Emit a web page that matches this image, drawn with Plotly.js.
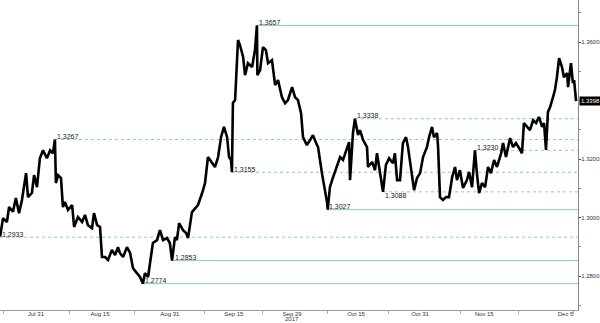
<!DOCTYPE html>
<html>
<head>
<meta charset="utf-8">
<script src="https://cdn.plot.ly/plotly-3.0.1.min.js"></script>
<style>html,body{margin:0;padding:0;background:#fff;}#chart{width:600px;height:323px;}</style>
</head>
<body>
<div id="chart"></div>
<script>
// Price series (hourly-ish readings of the exchange rate, 2017)
var times = [
'2017-07-20 20:00','2017-07-21 08:00','2017-07-24 00:00','2017-07-24 09:00','2017-07-25 01:00','2017-07-25 13:00',
'2017-07-26 02:00','2017-07-26 14:00','2017-07-27 07:00','2017-07-27 15:00','2017-07-28 07:00','2017-07-28 16:00',
'2017-07-31 04:00','2017-07-31 16:00','2017-08-01 05:00','2017-08-01 21:00','2017-08-02 10:00','2017-08-02 22:00',
'2017-08-03 06:00','2017-08-03 10:00','2017-08-03 19:00','2017-08-04 07:00','2017-08-04 15:00','2017-08-04 23:00',
'2017-08-07 12:00','2017-08-08 05:00','2017-08-08 13:00','2017-08-09 05:00','2017-08-09 22:00','2017-08-10 10:00',
'2017-08-10 22:00','2017-08-11 15:00','2017-08-11 23:00','2017-08-14 12:00','2017-08-15 00:00','2017-08-15 08:00',
'2017-08-15 21:00','2017-08-16 09:00','2017-08-17 01:00','2017-08-17 14:00','2017-08-18 02:00','2017-08-18 10:00',
'2017-08-18 23:00','2017-08-21 15:00','2017-08-22 04:00','2017-08-22 16:00','2017-08-23 08:00','2017-08-23 21:00',
'2017-08-24 09:00','2017-08-24 17:00','2017-08-25 06:00','2017-08-25 22:00','2017-08-28 02:00','2017-08-28 19:00',
'2017-08-29 07:00','2017-08-29 20:00','2017-08-30 12:00','2017-08-31 00:00','2017-08-31 09:00','2017-08-31 21:00',
'2017-09-01 05:00','2017-09-01 14:00','2017-09-04 06:00','2017-09-04 19:00','2017-09-05 03:00','2017-09-05 19:00',
'2017-09-06 08:00','2017-09-06 20:00','2017-09-07 13:00','2017-09-08 01:00','2017-09-08 13:00','2017-09-11 06:00',
'2017-09-11 18:00','2017-09-12 07:00','2017-09-12 19:00','2017-09-13 07:00','2017-09-13 20:00','2017-09-14 04:00',
'2017-09-14 12:00','2017-09-14 16:00','2017-09-14 20:00','2017-09-15 05:00','2017-09-15 13:00','2017-09-15 17:00',
'2017-09-18 01:00','2017-09-18 14:00','2017-09-18 22:00','2017-09-19 10:00','2017-09-20 03:00','2017-09-20 15:00',
'2017-09-20 23:00','2017-09-21 01:00','2017-09-21 12:00','2017-09-22 00:00','2017-09-22 12:00','2017-09-22 21:00',
'2017-09-25 13:00','2017-09-26 02:00','2017-09-26 14:00','2017-09-27 06:00','2017-09-27 19:00','2017-09-28 07:00',
'2017-09-29 00:00','2017-09-29 12:00','2017-10-02 00:00','2017-10-02 13:00','2017-10-02 21:00','2017-10-03 13:00',
'2017-10-04 02:00','2017-10-04 14:00','2017-10-05 03:00','2017-10-05 11:00','2017-10-06 03:00','2017-10-06 16:00',
'2017-10-09 00:00','2017-10-09 03:00','2017-10-09 12:00','2017-10-10 01:00','2017-10-10 17:00','2017-10-11 06:00',
'2017-10-11 18:00','2017-10-12 10:00','2017-10-12 19:00','2017-10-12 23:00','2017-10-13 11:00','2017-10-13 19:00',
'2017-10-16 08:00','2017-10-16 16:00','2017-10-17 05:00','2017-10-17 21:00','2017-10-18 01:00','2017-10-18 18:00',
'2017-10-19 06:00','2017-10-19 14:00','2017-10-20 03:00','2017-10-20 15:00','2017-10-23 03:00','2017-10-23 16:00',
'2017-10-24 08:00','2017-10-24 16:00','2017-10-25 01:00','2017-10-25 13:00','2017-10-26 01:00','2017-10-26 14:00',
'2017-10-26 22:00','2017-10-27 14:00','2017-10-27 23:00','2017-10-30 11:00','2017-10-31 00:00','2017-10-31 12:00',
'2017-11-01 04:00','2017-11-01 13:00','2017-11-02 01:00','2017-11-02 09:00','2017-11-02 22:00','2017-11-03 02:00',
'2017-11-03 10:00','2017-11-03 22:00','2017-11-06 11:00','2017-11-06 23:00','2017-11-07 12:00','2017-11-08 00:00',
'2017-11-08 08:00','2017-11-08 20:00','2017-11-09 09:00','2017-11-10 01:00','2017-11-10 10:00','2017-11-10 22:00',
'2017-11-13 10:00','2017-11-13 18:00','2017-11-14 03:00','2017-11-14 15:00','2017-11-15 04:00','2017-11-15 16:00',
'2017-11-16 04:00','2017-11-16 17:00','2017-11-17 05:00','2017-11-17 22:00','2017-11-20 06:00','2017-11-20 18:00',
'2017-11-21 11:00','2017-11-21 23:00','2017-11-22 11:00','2017-11-23 00:00','2017-11-23 12:00','2017-11-23 20:00',
'2017-11-24 09:00','2017-11-24 21:00','2017-11-27 10:00','2017-11-27 22:00','2017-11-28 10:00','2017-11-28 23:00',
'2017-11-29 07:00','2017-11-29 15:00','2017-11-29 23:00','2017-11-30 08:00','2017-11-30 20:00','2017-12-01 04:00',
'2017-12-01 12:00','2017-12-01 21:00','2017-12-04 09:00','2017-12-04 17:00','2017-12-05 06:00','2017-12-05 10:00',
'2017-12-05 22:00','2017-12-06 06:00','2017-12-06 11:00','2017-12-06 19:00'
];
var prices = [
1.2935,1.2998,1.2985,1.3036,1.3020,1.3067,
1.3015,1.3060,1.3152,1.3070,1.3084,1.3145,
1.3104,1.3203,1.3230,1.3203,1.3230,1.3220,
1.3267,1.3118,1.3145,1.3135,1.3036,1.3053,
1.3026,1.3043,1.2968,1.3002,1.2985,1.3009,
1.2974,1.2964,1.3015,1.2974,1.2968,1.2865,
1.2865,1.2855,1.2889,1.2872,1.2899,1.2879,
1.2865,1.2899,1.2879,1.2827,1.2810,1.2797,
1.2774,1.2810,1.2797,1.2879,1.2913,1.2923,
1.2957,1.2923,1.2930,1.2913,1.2853,1.2933,
1.2923,1.2981,1.2957,1.2947,1.2930,1.3019,
1.3032,1.3043,1.3084,1.3118,1.3207,1.3186,
1.3173,1.3207,1.3275,1.3310,1.3275,1.3207,
1.3197,1.3155,1.3392,1.3402,1.3583,1.3607,
1.3590,1.3549,1.3487,1.3528,1.3515,1.3573,
1.3657,1.3487,1.3504,1.3583,1.3573,1.3528,
1.3538,1.3453,1.3470,1.3412,1.3391,1.3402,
1.3446,1.3412,1.3402,1.3357,1.3275,1.3248,
1.3265,1.3282,1.3255,1.3241,1.3152,1.3094,
1.3053,1.3027,1.3104,1.3138,1.3173,1.3207,
1.3197,1.3241,1.3258,1.3128,1.3289,1.3338,
1.3282,1.3299,1.3265,1.3241,1.3173,1.3190,
1.3162,1.3220,1.3156,1.3088,1.3180,1.3203,
1.3186,1.3220,1.3128,1.3128,1.3255,1.3275,
1.3241,1.3138,1.3094,1.3135,1.3152,1.3207,
1.3241,1.3275,1.3310,1.3275,1.3289,1.3241,
1.3070,1.3060,1.3070,1.3070,1.3138,1.3173,
1.3128,1.3162,1.3101,1.3128,1.3156,1.3104,
1.3230,1.3152,1.3084,1.3118,1.3104,1.3173,
1.3152,1.3197,1.3173,1.3220,1.3255,1.3207,
1.3272,1.3241,1.3255,1.3238,1.3220,1.3323,
1.3310,1.3299,1.3333,1.3323,1.3344,1.3310,
1.3323,1.3231,1.3361,1.3378,1.3412,1.3436,
1.3480,1.3545,1.3515,1.3480,1.3494,1.3446,
1.3528,1.3460,1.3470,1.3398
];

// Support / resistance levels
var levelValues = [1.3657, 1.3338, 1.3267, 1.3230, 1.3155, 1.3088, 1.3027, 1.2933, 1.2853, 1.2774];
var levelStarts = ['2017-09-20 23:00','2017-10-13 19:00','2017-08-03 06:00','2017-11-13 10:00','2017-09-14 16:00',
                   '2017-10-20 15:00','2017-10-09 00:00','2017-07-20 19:30','2017-08-31 12:00','2017-08-24 09:00'];
var levelSolid = [true, false, false, false, false, false, true, false, true, true];
var lastPrice = 1.3398;

// Axis ticks
var xTickVals = ['2017-07-31','2017-08-15','2017-08-31','2017-09-15','2017-09-29','2017-10-16','2017-10-31','2017-11-15','2017-12-05'];
var xTickText = ['Jul 31','Aug 15','Aug 31','Sep 15','Sep 29','Oct 15','Oct 31','Nov 15','Dec 5'];
var yearLabel = '2017';
var yearLabelAt = '2017-09-29';
var xMinorVals = ['2017-07-21 08:00','2017-08-07 20:00','2017-08-23 00:00','2017-09-08 00:00','2017-09-22 00:00',
                  '2017-10-09 00:00','2017-10-23 12:00','2017-11-08 22:00','2017-11-22 20:00','2017-12-06 08:00'];
var yTickVals = [1.28, 1.30, 1.32, 1.36];

var xStart = '2017-07-20 19:30', xEnd = '2017-12-07 03:00';
var lineCol = 'rgb(135,205,188)';
var fontFam = 'Liberation Sans, Arial, sans-serif';

var shapes = [], annotations = [];
for (var i = 0; i < levelValues.length; i++) {
  shapes.push({type:'line', xref:'x', yref:'y', x0:levelStarts[i], x1:xEnd, y0:levelValues[i], y1:levelValues[i],
    line:{color:lineCol, width:1, dash: levelSolid[i] ? 'solid' : '3px,3px'}, layer:'below'});
  annotations.push({xref:'x', yref:'y', x:levelStarts[i], y:levelValues[i], xanchor:'left', yanchor:'middle',
    yshift: levelValues[i] === 1.3088 ? -4 : 3, text: levelValues[i].toFixed(4), showarrow:false,
    font:{family:fontFam, size:7, color:'#222'}});
}
annotations.push({xref:'paper', yref:'y', x:1, y:lastPrice, xanchor:'left', yanchor:'middle', xshift:1,
  text: lastPrice.toFixed(4), showarrow:false, bgcolor:'#000', borderpad:1,
  font:{family:fontFam, size:6, color:'#fff'}});
annotations.push({xref:'x', yref:'paper', x:yearLabelAt, y:0, xanchor:'center', yanchor:'bottom', yshift:-13,
  text: yearLabel, showarrow:false, borderpad:0, font:{family:fontFam, size:6, color:'#333'}});

var trace = {x: times, y: prices, type:'scatter', mode:'lines', line:{color:'#000', width:2.6}, hoverinfo:'skip'};

var layout = {
  width:600, height:323,
  margin:{l:0, r:22, t:0, b:13, pad:0},
  paper_bgcolor:'#fff', plot_bgcolor:'#fff',
  showlegend:false,
  xaxis:{type:'date', range:[xStart, xEnd], rangebreaks:[{bounds:['sat','mon']}],
    tickmode:'array', tickvals:xTickVals, ticktext:xTickText, ticks:'', ticklen:0,
    tickfont:{family:fontFam, size:6, color:'#333'}, ticklabelstandoff:-2,
    showline:true, linecolor:'#999', linewidth:1, showgrid:false, zeroline:false,
    minor:{tickmode:'array', tickvals:xMinorVals, ticks:'outside', ticklen:3, tickcolor:'#aaa', showgrid:false}},
  yaxis:{side:'right', range:[1.2684, 1.3744], tickmode:'array', tickvals:yTickVals, tickformat:'.4f',
    ticks:'outside', ticklen:2, tickcolor:'#444', tickwidth:1,
    tickfont:{family:fontFam, size:6, color:'#333'}, ticklabelstandoff:-1,
    showline:true, linecolor:'#888', linewidth:1, showgrid:false, zeroline:false,
    minor:{dtick:0.01, tick0:1.27, ticks:'outside', ticklen:2, tickcolor:'#888', showgrid:false}},
  shapes: shapes,
  annotations: annotations
};

Plotly.newPlot('chart', [trace], layout, {staticPlot:true, displayModeBar:false});
</script>
</body>
</html>
